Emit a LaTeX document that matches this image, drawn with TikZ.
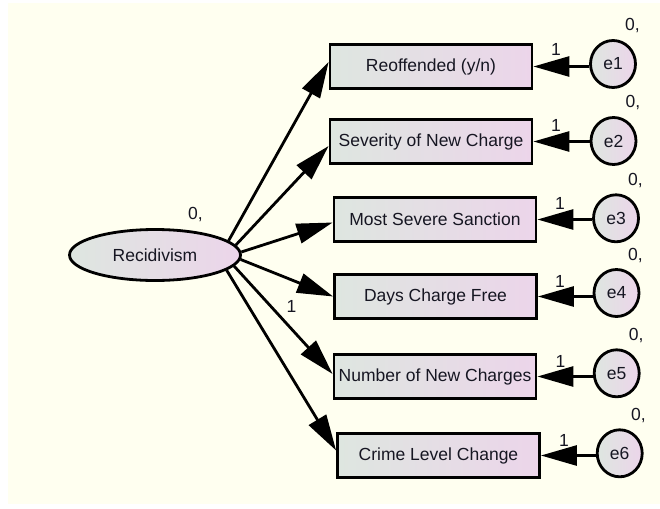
\documentclass[tikz,border=0pt]{standalone}
\usepackage{fontspec}
\setmainfont{Liberation Sans}
\usetikzlibrary{arrows.meta,shapes.geometric}
\definecolor{paper}{RGB}{255,255,240}
\definecolor{fillL}{RGB}{222,230,224}
\definecolor{fillR}{RGB}{236,213,234}
\definecolor{ink}{RGB}{22,22,34}
\begin{document}
\begin{tikzpicture}[x=1pt,y=-1pt,
  every node/.style={font=\fontsize{17.5}{20}\selectfont, text=ink},
  observed/.style={rectangle, draw=black, line width=2.8pt,
    minimum width=202pt, minimum height=44.5pt, inner sep=0pt,
    left color=fillL, right color=fillR},
  latent/.style={ellipse, draw=black, line width=2.8pt,
    minimum width=171pt, minimum height=51pt, inner sep=0pt,
    left color=fillL, right color=fillR},
  errvar/.style={ellipse, draw=black, line width=2.8pt,
    minimum width=45pt, minimum height=47pt, inner sep=0pt,
    left color=fillL, right color=fillR},
  loading/.style={draw=black, line width=2.8pt,
    -{Triangle[length=36pt,width=20pt]}},
  lbl/.style={anchor=base west, inner sep=0pt}
]
% canvas
\fill[white] (0,0) rectangle (660,508);
\fill[paper] (8,3) rectangle (660,504);
\useasboundingbox (0,0) rectangle (660,508);

% latent factor
\node[latent] (rec) at (155,255) {Recidivism};

% indicators
\node[observed] (r1) at (431,66.5)  {Reoffended (y/n)};
\node[observed] (r2) at (431,141.5) {Severity of New Charge};
\node[observed] (r3) at (435,219.5) {Most Severe Sanction};
\node[observed] (r4) at (435.5,296.5) {Days Charge Free};
\node[observed] (r5) at (435,376.5) {Number of New Charges};
\node[observed] (r6) at (438.5,455.5) {Crime Level Change};

% error terms
\node[errvar] (e1) at (613,64)    {e1};
\node[errvar] (e2) at (613.5,141) {e2};
\node[errvar] (e3) at (616,218.3) {e3};
\node[errvar] (e4) at (616.5,293) {e4};
\node[errvar] (e5) at (616.7,373.3) {e5};
\node[errvar] (e6) at (619.7,453.3) {e6};

% factor loadings
\draw[loading] (rec.11)  -- ([yshift=4.5pt]r1.west);
\draw[loading] (rec.7)   -- ([yshift=-4.5pt]r2.west);
\draw[loading] (rec.2)   -- ([yshift=-3pt]r3.west);
\draw[loading] (rec.-3)  -- (r4.west);
\draw[loading] (rec.-8)  -- ([yshift=2.5pt]r5.west);
\draw[loading] (rec.-12) -- ([yshift=5pt]r6.west);

% error paths
\draw[loading] (e1.west |- r1.east) -- (r1.east);
\draw[loading] (e2.west |- r2.east) -- (r2.east);
\draw[loading] (e3.west |- r3.east) -- (r3.east);
\draw[loading] (e4.west |- r4.east) -- (r4.east);
\draw[loading] (e5.west |- r5.east) -- (r5.east);
\draw[loading] (e6.west |- r6.east) -- (r6.east);

% variances / means
\node[lbl] (m0) at (188,219)   {0,};
\node[lbl] (m1) at (625,31)    {0,};
\node[lbl] (m2) at (625.5,107) {0,};
\node[lbl] (m3) at (628,185)   {0,};
\node[lbl] (m4) at (628,260)   {0,};
\node[lbl] (m5) at (628.7,340) {0,};
\node[lbl] (m6) at (631,420)   {0,};

% fixed weights
\node[lbl] (w0) at (286.5,312.7) {1};
\node[lbl] (w1) at (551,56)  {1};
\node[lbl] (w2) at (551,131) {1};
\node[lbl] (w3) at (555,209) {1};
\node[lbl] (w4) at (555,287) {1};
\node[lbl] (w5) at (555.5,367) {1};
\node[lbl] (w6) at (559,446) {1};
\end{tikzpicture}
\end{document}
